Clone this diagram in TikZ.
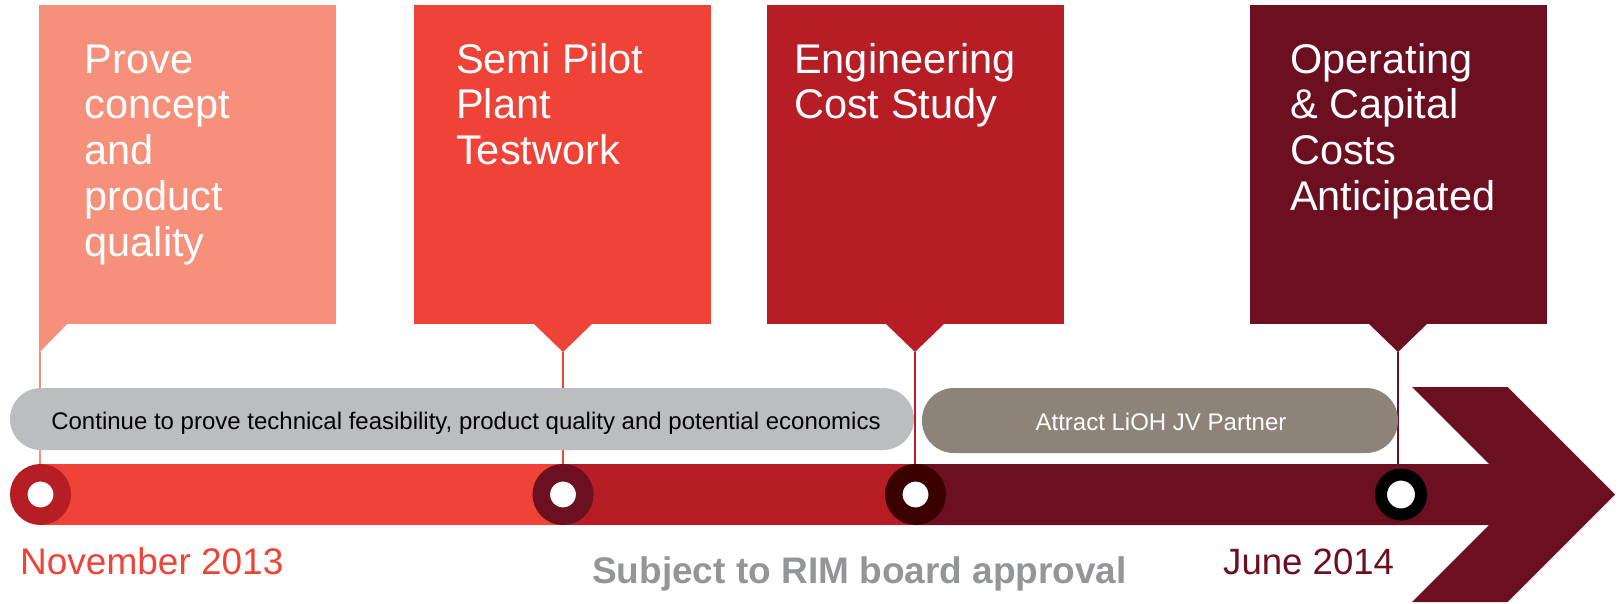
\documentclass[tikz,border=0pt]{standalone}
\usepackage{fontspec}
\setmainfont{Liberation Sans}
\definecolor{salmon}{HTML}{F6907A}
\definecolor{brightred}{HTML}{EF4338}
\definecolor{deepred}{HTML}{B71D24}
\definecolor{maroon}{HTML}{6B0F21}
\definecolor{darkest}{HTML}{3B0000}
\definecolor{pillgray}{HTML}{BCBDC0}
\definecolor{taupe}{HTML}{8E8378}
\definecolor{notegray}{HTML}{939598}

\begin{document}
\begin{tikzpicture}[x=1pt,y=-1pt,
  stagebox/.style={fill=#1, minimum width=297pt, minimum height=319pt,
    inner sep=0pt, outer sep=0pt, anchor=north west},
  % base anchor of a multi-line node sits on its last line
  stagetext/.style={text=white, inner sep=0pt, anchor=base west, align=left,
    font=\fontsize{41.5pt}{45.8pt}\selectfont},
  ring/.style={circle, draw=#1, fill=white, line width=17.5pt,
    minimum size=43.5pt, inner sep=0pt},
  tick/.style={draw=#1, line width=1.5pt},
  pill/.style={fill=#1, rounded corners=31pt, inner sep=0pt},
  pilltext/.style={anchor=base, inner sep=0pt, font=\fontsize{24pt}{28pt}\selectfont},
  datetext/.style={anchor=base west, inner sep=0pt, font=\fontsize{37pt}{40pt}\selectfont}
]
\useasboundingbox (0,0) rectangle (1618,603);

% stage boxes
\node[stagebox=salmon]    (b1) at (39,5) {};
\node[stagebox=brightred] (b2) at (414,5) {};
\node[stagebox=deepred]   (b3) at (767,5) {};
\node[stagebox=maroon]    (b4) at (1250,5) {};

% pointer tips under the boxes
\coordinate (t1) at (40,352);
\coordinate (t2) at (563,352);
\coordinate (t3) at (915,352);
\coordinate (t4) at (1398,352);
\fill[salmon]    (39,323) -- (68,323) -- (t1) -- (39,352) -- cycle;
\fill[brightred] (533,323) -- (593,323) -- (t2) -- cycle;
\fill[deepred]   (885,323) -- (945,323) -- (t3) -- cycle;
\fill[maroon]    (1368,323) -- (1428,323) -- (t4) -- cycle;

% stage captions (first baseline at 73, 45.8 between lines)
\node[stagetext] (s1) at (84.5,256.2) {Prove\\concept\\and\\product\\quality};
\node[stagetext] (s2) at (456,164.6) {Semi Pilot\\Plant\\Testwork};
\node[stagetext] (s3) at (794,118.8) {Engineering\\Cost Study};
\node[stagetext] (s4) at (1290,210.4) {Operating\\\& Capital\\Costs\\Anticipated};

% timeline bar and arrow head
\fill[brightred] (40.5,464) rectangle (563,525);
\fill[deepred] (563,464) rectangle (915.5,525);
\fill[maroon] (915.5,464) -- (1489,464) -- (1412,387) -- (1507.5,387)
  -- (1615,494.5) -- (1507.5,602) -- (1412,602) -- (1489,525)
  -- (915.5,525) -- cycle;

% milestones
\node[ring=deepred] (c1) at (40.5,494.5) {};
\node[ring=maroon]  (c2) at (563,494.5) {};
\node[ring=darkest] (c3) at (915.5,494.5) {};
\node[circle, draw=black, fill=white, line width=12pt, minimum size=40pt,
  inner sep=0pt] (c4) at (1401,494.5) {};

% ticks from boxes to milestones
\draw[tick=salmon]    (t1) -- (t1 |- c1.north);
\draw[tick=brightred] (t2) -- (t2 |- c2.north);
\draw[tick=deepred]   (t3) -- (t3 |- c3.north);
\draw[tick=maroon]    (t4) -- (t4 |- c4.north);

% activity pills
\node[pill=pillgray, minimum width=904pt, minimum height=62pt] (p1) at (462,419) {};
\node[pilltext, text=black] (p1text) at (466,429)
  {Continue to prove technical feasibility, product quality and potential economics};
\node[pill=taupe, rounded corners=32pt, minimum width=476pt, minimum height=65pt] (p2)
  at (1160,420.5) {};
\node[pilltext, text=white] (p2text) at (1161,430) {Attract LiOH JV Partner};

% dates and note
\node[datetext, text=brightred] (d1) at (20,574) {November 2013};
\node[datetext, text=notegray, font=\fontsize{37pt}{40pt}\selectfont\bfseries] (n1)
  at (592,583) {Subject to RIM board approval};
\node[datetext, text=maroon, font=\fontsize{36.6pt}{40pt}\selectfont] (d2)
  at (1223,574) {June 2014};
\end{tikzpicture}
\end{document}
